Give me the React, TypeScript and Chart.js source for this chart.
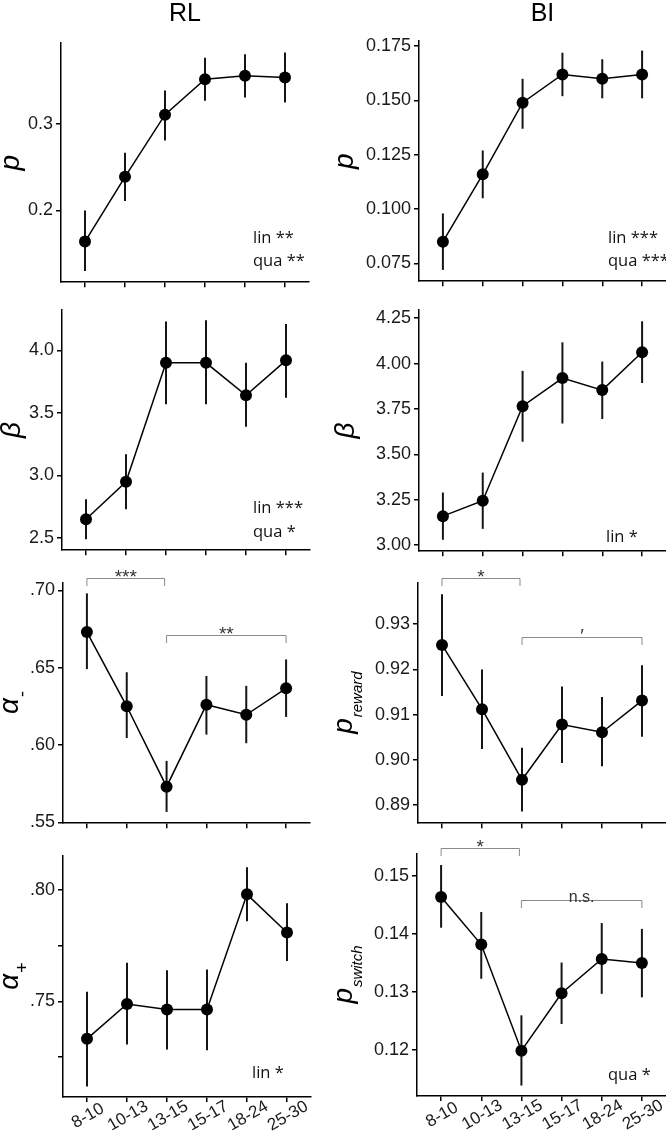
import React, { useEffect, useRef } from "react";
import { Chart, registerables } from "chart.js";

Chart.register(...registerables);

// ---------- data ----------
const ageGroups = ["8-10", "10-13", "13-15", "15-17", "18-24", "25-30"];

// RL: p
const rlPMean = [0.164, 0.239, 0.311, 0.352, 0.356, 0.354];
const rlPLow = [0.130, 0.211, 0.281, 0.327, 0.331, 0.325];
const rlPHigh = [0.200, 0.267, 0.339, 0.377, 0.381, 0.383];
const rlPRange = [0.117, 0.394];
const rlPTicks = [0.2, 0.3];
const rlPTickLabels = ["0.2", "0.3"];
const rlPStats = ["lin **", "qua **"];

// BI: p
const biPMean = [0.085, 0.116, 0.149, 0.162, 0.160, 0.162];
const biPLow = [0.072, 0.105, 0.137, 0.152, 0.151, 0.151];
const biPHigh = [0.098, 0.127, 0.160, 0.172, 0.169, 0.173];
const biPRange = [0.0668, 0.1774];
const biPTicks = [0.075, 0.1, 0.125, 0.15, 0.175];
const biPTickLabels = ["0.075", "0.100", "0.125", "0.150", "0.175"];
const biPStats = ["lin ***", "qua ***"];

// RL: beta
const rlBetaMean = [2.65, 2.95, 3.90, 3.90, 3.64, 3.92];
const rlBetaLow = [2.49, 2.73, 3.57, 3.57, 3.39, 3.62];
const rlBetaHigh = [2.81, 3.17, 4.23, 4.24, 3.90, 4.21];
const rlBetaRange = [2.403, 4.322];
const rlBetaTicks = [2.5, 3.0, 3.5, 4.0];
const rlBetaTickLabels = ["2.5", "3.0", "3.5", "4.0"];
const rlBetaStats = ["lin ***", "qua *"];

// BI: beta
const biBetaMean = [3.16, 3.245, 3.765, 3.92, 3.854, 4.062];
const biBetaLow = [3.03, 3.09, 3.57, 3.67, 3.695, 3.893];
const biBetaHigh = [3.29, 3.40, 3.96, 4.117, 4.011, 4.233];
const biBetaRange = [2.967, 4.295];
const biBetaTicks = [3.0, 3.25, 3.5, 3.75, 4.0, 4.25];
const biBetaTickLabels = ["3.00", "3.25", "3.50", "3.75", "4.00", "4.25"];
const biBetaStats = ["lin *"];

// RL: alpha-
const rlAlphaMinusMean = [0.673, 0.625, 0.573, 0.626, 0.6195, 0.6366];
const rlAlphaMinusLow = [0.649, 0.6045, 0.5567, 0.6067, 0.6011, 0.6181];
const rlAlphaMinusHigh = [0.698, 0.647, 0.5897, 0.6446, 0.6382, 0.6553];
const rlAlphaMinusRange = [0.5494, 0.7047];
const rlAlphaMinusTicks = [0.55, 0.6, 0.65, 0.7];
const rlAlphaMinusTickLabels = [".55", ".60", ".65", ".70"];
const rlAlphaMinusBrackets = [
  { from: 0, to: 1.95, y: 0.7081, label: "***" },
  { from: 2, to: 5, y: 0.6712, label: "**" },
];

// BI: p reward
const biRewardMean = [0.9254, 0.9112, 0.8956, 0.9078, 0.9061, 0.9131];
const biRewardLow = [0.9141, 0.9024, 0.8886, 0.8993, 0.8986, 0.9051];
const biRewardHigh = [0.9366, 0.920, 0.9027, 0.9162, 0.9139, 0.9209];
const biRewardRange = [0.886, 0.9391];
const biRewardTicks = [0.89, 0.9, 0.91, 0.92, 0.93];
const biRewardTickLabels = ["0.89", "0.90", "0.91", "0.92", "0.93"];
const biRewardBrackets = [
  { from: 0, to: 1.95, y: 0.9403, label: "*" },
  { from: 2, to: 5, y: 0.9272, label: "\u2032" },
];

// RL: alpha+
const rlAlphaPlusMean = [0.7332, 0.7488, 0.7463, 0.7463, 0.798, 0.7809];
const rlAlphaPlusLow = [0.7118, 0.7306, 0.7284, 0.7281, 0.7859, 0.7681];
const rlAlphaPlusHigh = [0.7543, 0.7673, 0.764, 0.7643, 0.8101, 0.794];
const rlAlphaPlusRange = [0.7071, 0.8152];
const rlAlphaPlusTicks = [0.725, 0.75, 0.775, 0.8];
const rlAlphaPlusTickLabels = ["", ".75", "", ".80"];
const rlAlphaPlusStats = ["lin *"];

// BI: p switch
const biSwitchMean = [0.1464, 0.1382, 0.1199, 0.1298, 0.1357, 0.135];
const biSwitchLow = [0.1411, 0.1323, 0.1139, 0.1245, 0.1297, 0.1291];
const biSwitchHigh = [0.1519, 0.1438, 0.126, 0.1351, 0.1419, 0.1409];
const biSwitchRange = [0.1121, 0.1538];
const biSwitchTicks = [0.12, 0.13, 0.14, 0.15];
const biSwitchTickLabels = ["0.12", "0.13", "0.14", "0.15"];
const biSwitchBrackets = [
  { from: 0, to: 1.95, y: 0.1549, label: "*" },
  { from: 2, to: 5, y: 0.1459, label: "n.s." },
];
const biSwitchStats = ["qua *"];

// ---------- layout ----------
const SANS = "'Liberation Sans', Arial, Helvetica, sans-serif";
const STAT_FONT = "'Open Sans', 'Liberation Sans', sans-serif";

type Bracket = { from: number; to: number; y: number; label: string };
type PanelCfg = {
  mean: number[];
  low: number[];
  high: number[];
  range: number[];
  ticks: number[];
  tickLabels: string[];
  stats?: string[];
  brackets?: Bracket[];
  main: string;
  sub?: string;
  subItalic?: boolean;
  subSize?: number;
  colTitle?: string;
  showX: boolean;
  area: [number, number, number, number]; // left, top, right, bottom (page px)
  titleBaseX: number;
  statX?: number;
  statY?: number[];
};

const panels: PanelCfg[] = [
  {
    mean: rlPMean, low: rlPLow, high: rlPHigh, range: rlPRange, ticks: rlPTicks, tickLabels: rlPTickLabels,
    stats: rlPStats, main: "p", colTitle: "RL", showX: false,
    area: [61, 43, 309, 284], titleBaseX: 19, statX: 253, statY: [243, 266],
  },
  {
    mean: biPMean, low: biPLow, high: biPHigh, range: biPRange, ticks: biPTicks, tickLabels: biPTickLabels,
    stats: biPStats, main: "p", colTitle: "BI", showX: false,
    area: [419, 41, 666, 283], titleBaseX: 353, statX: 608, statY: [243, 266],
  },
  {
    mean: rlBetaMean, low: rlBetaLow, high: rlBetaHigh, range: rlBetaRange, ticks: rlBetaTicks, tickLabels: rlBetaTickLabels,
    stats: rlBetaStats, main: "\u03B2", showX: false,
    area: [62, 310, 310, 552], titleBaseX: 20, statX: 253, statY: [513, 537],
  },
  {
    mean: biBetaMean, low: biBetaLow, high: biBetaHigh, range: biBetaRange, ticks: biBetaTicks, tickLabels: biBetaTickLabels,
    stats: biBetaStats, main: "\u03B2", showX: false,
    area: [419, 310, 666, 553], titleBaseX: 354, statX: 606, statY: [542],
  },
  {
    mean: rlAlphaMinusMean, low: rlAlphaMinusLow, high: rlAlphaMinusHigh, range: rlAlphaMinusRange,
    ticks: rlAlphaMinusTicks, tickLabels: rlAlphaMinusTickLabels, brackets: rlAlphaMinusBrackets,
    main: "\u03B1", sub: "-", subItalic: false, subSize: 18, showX: false,
    area: [63, 583, 310, 825], titleBaseX: 18,
  },
  {
    mean: biRewardMean, low: biRewardLow, high: biRewardHigh, range: biRewardRange,
    ticks: biRewardTicks, tickLabels: biRewardTickLabels, brackets: biRewardBrackets,
    main: "p", sub: "reward", subItalic: true, subSize: 15, showX: false,
    area: [418, 583, 666, 825], titleBaseX: 352,
  },
  {
    mean: rlAlphaPlusMean, low: rlAlphaPlusLow, high: rlAlphaPlusHigh, range: rlAlphaPlusRange,
    ticks: rlAlphaPlusTicks, tickLabels: rlAlphaPlusTickLabels, stats: rlAlphaPlusStats,
    main: "\u03B1", sub: "+", subItalic: false, subSize: 18, showX: true,
    area: [63, 856, 311, 1097], titleBaseX: 18, statX: 252, statY: [1078],
  },
  {
    mean: biSwitchMean, low: biSwitchLow, high: biSwitchHigh, range: biSwitchRange,
    ticks: biSwitchTicks, tickLabels: biSwitchTickLabels, brackets: biSwitchBrackets, stats: biSwitchStats,
    main: "p", sub: "switch", subItalic: true, subSize: 15, showX: true,
    area: [417, 854, 666, 1096], titleBaseX: 352, statX: 608, statY: [1080],
  },
];

const PAD_TOP = 40;
const PAGE_H = 1133;
const X_LABEL_ANGLE = 30;

function Panel({ cfg, index }: { cfg: PanelCfg; index: number }) {
  const ref = useRef<HTMLCanvasElement>(null);
  const col = index % 2;
  const canvasLeft = col * 333;
  const canvasWidth = 333;
  const [aL, aT, aR, aB] = cfg.area;
  const canvasTop = aT - PAD_TOP;
  const xBox = cfg.showX ? PAGE_H - aB : 12;
  const canvasHeight = PAD_TOP + (aB - aT) + xBox;

  useEffect(() => {
    const canvas = ref.current!;
    const decor = {
      id: "decor",
      beforeDatasetsDraw(chart: any) {
        const { ctx, scales } = chart;
        const xs = scales.x;
        const ys = scales.y;
        ctx.save();
        ctx.strokeStyle = "#151515";
        ctx.lineWidth = 2;
        cfg.mean.forEach((_, i) => {
          const px = xs.getPixelForValue(i);
          ctx.beginPath();
          ctx.moveTo(px, ys.getPixelForValue(cfg.low[i]));
          ctx.lineTo(px, ys.getPixelForValue(cfg.high[i]));
          ctx.stroke();
        });
        ctx.restore();
      },
      afterDraw(chart: any) {
        const { ctx, scales, chartArea } = chart;
        const xs = scales.x;
        const ys = scales.y;
        ctx.save();
        // brackets
        (cfg.brackets || []).forEach((b) => {
          const x1 = xs.getPixelForValue(b.from);
          const x2 = xs.getPixelForValue(b.to);
          const y = Math.round(ys.getPixelForValue(b.y)) + 0.5;
          ctx.strokeStyle = "#8a8a8a";
          ctx.lineWidth = 1;
          ctx.beginPath();
          ctx.moveTo(x1, y + 7.5);
          ctx.lineTo(x1, y);
          ctx.lineTo(x2, y);
          ctx.lineTo(x2, y + 7.5);
          ctx.stroke();
          ctx.fillStyle = "#333";
          ctx.font = b.label === "n.s." ? `16px ${SANS}` : `19px ${SANS}`;
          ctx.textAlign = "center";
          ctx.textBaseline = "alphabetic";
          ctx.fillText(b.label, (x1 + x2) / 2, y + (b.label === "n.s." ? 1.5 : 4));
        });
        // stats text
        if (cfg.stats && cfg.statX !== undefined && cfg.statY) {
          ctx.fillStyle = "#111";
          ctx.font = `16.5px ${STAT_FONT}`;
          ctx.textAlign = "left";
          ctx.textBaseline = "alphabetic";
          cfg.stats.forEach((s, i) => {
            ctx.fillText(s, cfg.statX! - canvasLeft, cfg.statY![i] - canvasTop);
          });
        }
        // column title
        if (cfg.colTitle) {
          ctx.fillStyle = "#000";
          ctx.font = `25px ${SANS}`;
          ctx.textAlign = "center";
          ctx.textBaseline = "alphabetic";
          ctx.fillText(cfg.colTitle, (chartArea.left + chartArea.right) / 2, 21 - canvasTop);
        }
        // x tick labels (rotated, centred on the tick)
        if (cfg.showX) {
          ctx.fillStyle = "#1a1a1a";
          ctx.font = `17px ${SANS}`;
          ctx.textAlign = "center";
          ctx.textBaseline = "middle";
          ageGroups.forEach((lab, i) => {
            const px = xs.getPixelForValue(i);
            ctx.save();
            ctx.translate(px + 1, chartArea.bottom + 19);
            ctx.rotate((-X_LABEL_ANGLE * Math.PI) / 180);
            ctx.fillText(lab, 0, 0);
            ctx.restore();
          });
        }
        // y-axis title (rotated, with optional subscript)
        const cy = (chartArea.top + chartArea.bottom) / 2;
        const bx = cfg.titleBaseX - canvasLeft;
        ctx.translate(bx, cy);
        ctx.rotate(-Math.PI / 2);
        ctx.fillStyle = "#000";
        ctx.textAlign = "left";
        ctx.textBaseline = "alphabetic";
        const mainFont = `italic 28px ${SANS}`;
        const subFont = `${cfg.subItalic ? "italic " : ""}${cfg.subSize || 14}px ${SANS}`;
        ctx.font = mainFont;
        const wm = ctx.measureText(cfg.main).width;
        let ws = 0;
        if (cfg.sub) {
          ctx.font = subFont;
          ws = ctx.measureText(cfg.sub).width;
        }
        const start = -(wm + ws) / 2;
        ctx.font = mainFont;
        ctx.fillText(cfg.main, start, 0);
        if (cfg.sub) {
          ctx.font = subFont;
          ctx.fillText(cfg.sub, start + wm + 1, 10);
        }
        ctx.restore();
      },
    };

    const chart = new Chart(canvas, {
      type: "line",
      data: {
        datasets: [
          {
            data: cfg.mean.map((m, i) => ({ x: i, y: m })),
            borderColor: "#000",
            borderWidth: 1.5,
            pointRadius: 6,
            pointBackgroundColor: "#000",
            pointBorderColor: "#000",
            pointBorderWidth: 0,
            tension: 0,
            clip: false as any,
          },
        ],
      },
      options: {
        animation: false,
        responsive: false,
        devicePixelRatio: 1,
        events: [],
        layout: {
          autoPadding: false,
          padding: { top: PAD_TOP, left: 0, right: canvasWidth - (aR - canvasLeft), bottom: 0 },
        },
        plugins: { legend: { display: false }, tooltip: { enabled: false }, title: { display: false } },
        scales: {
          x: {
            type: "linear",
            position: "bottom",
            min: -0.6,
            max: 5.6,
            afterBuildTicks: (scale: any) => {
              scale.ticks = ageGroups.map((_, i) => ({ value: i }));
            },
            afterFit: (scale: any) => {
              scale.height = xBox;
            },
            grid: { display: true, drawOnChartArea: false, drawTicks: true, tickLength: 5, color: "#000", lineWidth: 1.5 },
            border: { display: true, color: "#000", width: 1.5 },
            ticks: { display: false },
          },
          y: {
            type: "linear",
            min: cfg.range[0],
            max: cfg.range[1],
            afterBuildTicks: (scale: any) => {
              scale.ticks = cfg.ticks.map((v) => ({ value: v }));
            },
            afterFit: (scale: any) => {
              scale.width = aL - canvasLeft;
            },
            grid: { display: true, drawOnChartArea: false, drawTicks: true, tickLength: 5, color: "#000", lineWidth: 1.5 },
            border: { display: true, color: "#000", width: 1.5 },
            ticks: {
              padding: 3,
              color: "#1a1a1a",
              font: { family: SANS, size: 18 },
              callback: (_v: any, i: number) => cfg.tickLabels[i],
            },
          },
        },
      } as any,
      plugins: [decor],
    });
    return () => chart.destroy();
  }, []);

  return (
    <canvas
      ref={ref}
      width={canvasWidth}
      height={canvasHeight}
      style={{ position: "absolute", left: canvasLeft, top: canvasTop, width: canvasWidth, height: canvasHeight }}
    />
  );
}

export default function App() {
  return (
    <div
      style={{
        position: "absolute",
        left: 0,
        top: 0,
        width: 666,
        height: PAGE_H,
        overflow: "hidden",
        background: "#fff",
      }}
    >
      {panels.map((p, i) => (
        <Panel key={i} cfg={p} index={i} />
      ))}
    </div>
  );
}
